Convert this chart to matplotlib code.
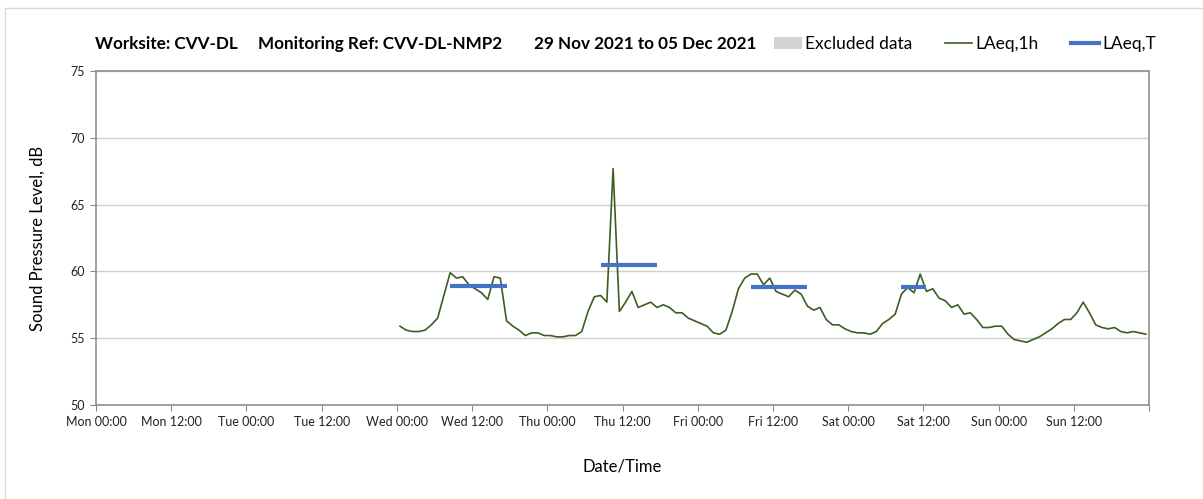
import matplotlib
matplotlib.use("Agg")
import matplotlib.pyplot as plt
import matplotlib.dates as mdates
import numpy as np
from matplotlib.patches import Patch, Rectangle
from matplotlib.lines import Line2D

plt.rcParams['font.family'] = ['Lato', 'DejaVu Sans']

# Week shown on the axis
week_start = np.datetime64('2021-11-29T00:00')
week_end = np.datetime64('2021-12-06T00:00')

# Hourly LAeq,1h, first value at Wed 01 Dec 00:30
first_hour = np.datetime64('2021-12-01T00:30')
laeq_1h = [
    55.9, 55.6, 55.5, 55.5, 55.6, 56.0, 56.5, 58.2, 59.9, 59.5,
    59.6, 59.0, 58.7, 58.4, 57.9, 59.6, 59.5, 56.3, 55.9, 55.6,
    55.2, 55.4, 55.4, 55.2, 55.2, 55.1, 55.1, 55.2, 55.2, 55.5,
    57.0, 58.1, 58.2, 57.7, 67.7, 57.0, 57.7, 58.5, 57.3, 57.5,
    57.7, 57.3, 57.5, 57.3, 56.9, 56.9, 56.5, 56.3, 56.1, 55.9,
    55.4, 55.3, 55.6, 57.0, 58.7, 59.5, 59.8, 59.8, 59.0, 59.5,
    58.5, 58.3, 58.1, 58.6, 58.3, 57.4, 57.1, 57.3, 56.4, 56.0,
    56.0, 55.7, 55.5, 55.4, 55.4, 55.3, 55.5, 56.1, 56.4, 56.8,
    58.3, 58.8, 58.4, 59.8, 58.5, 58.7, 58.0, 57.8, 57.3, 57.5,
    56.8, 56.9, 56.4, 55.8, 55.8, 55.9, 55.9, 55.3, 54.9, 54.8,
    54.7, 54.9, 55.1, 55.4, 55.7, 56.1, 56.4, 56.4, 56.9, 57.7,
    56.9, 56.0, 55.8, 55.7, 55.8, 55.5, 55.4, 55.5, 55.4, 55.3,
]

# LAeq,T over each daytime period
period_start = ['2021-12-01T08:30', '2021-12-02T08:30', '2021-12-03T08:30', '2021-12-04T08:30']
period_end = ['2021-12-01T17:30', '2021-12-02T17:30', '2021-12-03T17:30', '2021-12-04T12:30']
laeq_t = [58.9, 60.5, 58.8, 58.8]

title_parts = ['Worksite: CVV-DL', 'Monitoring Ref: CVV-DL-NMP2', '29 Nov 2021 to 05 Dec 2021']

green = '#3b5e22'
blue = '#4472c4'

times = first_hour + np.arange(len(laeq_1h)) * np.timedelta64(1, 'h')

fig = plt.figure(figsize=(12.03, 4.99), dpi=100)
ax = fig.add_axes([96 / 1203, 1 - 405 / 499, (1149 - 96) / 1203, (405 - 71) / 499])

# chart area border
fig.patches.append(Rectangle((5 / 1203, -0.1), 1.2, 1 - 8 / 499 + 0.1, transform=fig.transFigure,
                             fill=False, edgecolor='#d9d9d9', linewidth=1))

ax.plot(times.astype('datetime64[m]').astype(object), laeq_1h, color=green, linewidth=1.2, zorder=3)
for s, e, v in zip(period_start, period_end, laeq_t):
    ax.plot([np.datetime64(s).astype(object), np.datetime64(e).astype(object)], [v, v],
            color=blue, linewidth=3, solid_capstyle='butt', zorder=4)

ax.set_xlim(week_start.astype(object), week_end.astype(object))
ax.set_ylim(50, 75)
ax.set_yticks(np.arange(50, 76, 5))

end_num = mdates.date2num(week_end.astype(object))


def tick_label(x, pos):
    # no label on the closing tick of the week
    if abs(x - end_num) < 1e-6:
        return ''
    return mdates.num2date(x).strftime('%a %H:%M')


ax.xaxis.set_major_locator(mdates.HourLocator(byhour=[0, 12]))
ax.xaxis.set_major_formatter(plt.FuncFormatter(tick_label))
ax.xaxis.set_minor_locator(mdates.DayLocator())

ax.grid(False)
ax.grid(True, axis='y', which='major', color='#d0d0d0', linewidth=1)
ax.grid(True, axis='x', which='minor', color='#e0e0e0', linewidth=1)
ax.tick_params(axis='x', which='minor', length=0)
ax.tick_params(axis='both', which='major', direction='out', length=4, color='#888888',
               labelsize=9, labelcolor='#222222', pad=4)

for sp in ax.spines.values():
    sp.set_color('#909090')
    sp.set_linewidth(1.2)

ax.set_ylabel('Sound Pressure Level, dB', fontsize=12, labelpad=18)
ax.set_xlabel('Date/Time', fontsize=12, labelpad=22)

# header line
title_x = [95, 258, 534]
for x, txt in zip(title_x, title_parts):
    fig.text(x / 1203, 1 - 44 / 499, txt, fontsize=12.3, fontweight='bold', va='center', ha='left')

handles = [Patch(facecolor='#d3d3d3', edgecolor='none'),
           Line2D([], [], color=green, linewidth=1.2),
           Line2D([], [], color=blue, linewidth=3)]
fig.legend(handles, ['Excluded data', 'LAeq,1h', 'LAeq,T'], loc='center', ncol=3, frameon=False,
           bbox_to_anchor=(965 / 1203, 1 - 44 / 499), fontsize=12.5, handlelength=1.6,
           handletextpad=0.2, columnspacing=1.85, handleheight=0.7)

fig.savefig('out.png', dpi=100)
